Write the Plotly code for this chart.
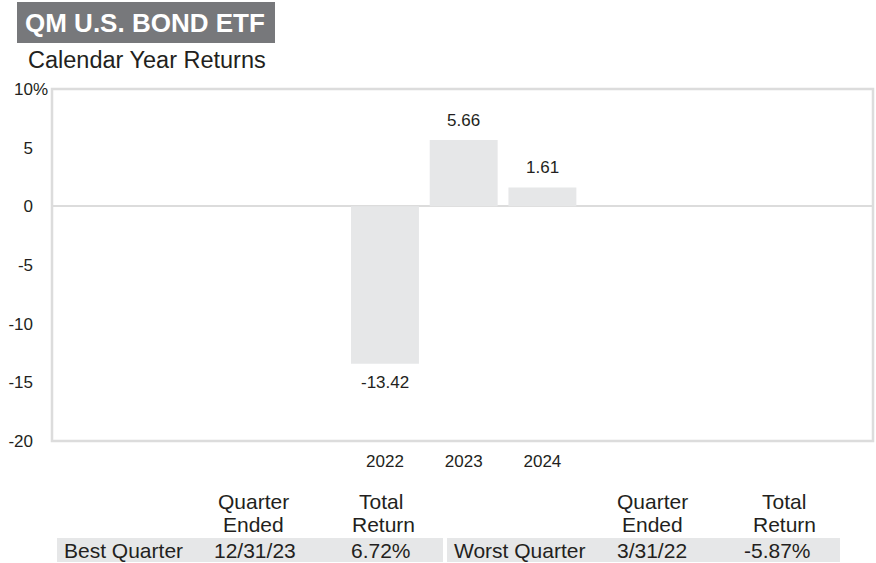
import plotly.graph_objects as go

years = ["2022", "2023", "2024"]
returns = [-13.42, 5.66, 1.61]
y_ticks = [-20, -15, -10, -5, 0, 5, 10]
y_tick_text = ["-20", "-15", "-10", "-5", "0", "5", "10"]

best_label, best_date, best_ret = "Best Quarter", "12/31/23", "6.72%"
worst_label, worst_date, worst_ret = "Worst Quarter", "3/31/22", "-5.87%"

W, H = 876, 563
L, R, T, B = 52, 3, 89, 122
PW, PH = W - L - R, H - T - B
TXT = "#231f20"
FONT = "Liberation Sans, Arial, sans-serif"

def px(x):
    return (x - L) / PW

def py(y):
    return (H - B - y) / PH

fig = go.Figure()
fig.add_trace(go.Bar(x=years, y=returns, marker=dict(color="#e6e7e8", line=dict(width=0)),
                     width=0.863, hoverinfo="skip"))

annotations = []
for i, v in enumerate(returns):
    annotations.append(dict(x=i, y=v, xref="x", yref="y", text=f"{v:.2f}", showarrow=False,
                            yanchor="bottom" if v >= 0 else "top",
                            yshift=8 if v >= 0 else -7,
                            font=dict(size=17, color=TXT, family=FONT)))

# % sign after top tick
annotations.append(dict(x=px(32), y=1, xref="paper", yref="paper", text="%", showarrow=False,
                        xanchor="left", yanchor="middle", xshift=-1,
                        font=dict(size=17, color=TXT, family=FONT)))

# Title
annotations.append(dict(x=px(23), y=py(23), xref="paper", yref="paper", text="<b>QM U.S. BOND ETF</b>",
                        showarrow=False, xanchor="left", yanchor="middle",
                        font=dict(size=26, color="white", family=FONT)))
annotations.append(dict(x=px(26), y=py(60), xref="paper", yref="paper", text="Calendar Year Returns",
                        showarrow=False, xanchor="left", yanchor="middle",
                        font=dict(size=23.5, color=TXT, family=FONT)))

tf = dict(size=21, color=TXT, family=FONT)
def ann(x, y, text, anchor="center"):
    annotations.append(dict(x=px(x), y=py(y), xref="paper", yref="paper", text=text,
                            showarrow=False, xanchor=anchor, yanchor="middle", font=tf))

ann(253, 501, "Quarter"); ann(253, 524, "Ended")
ann(381, 501, "Total"); ann(383, 524, "Return")
ann(652, 501, "Quarter"); ann(652, 524, "Ended")
ann(784, 501, "Total"); ann(784, 524, "Return")
ann(62, 550, best_label, "left"); ann(255, 550, best_date); ann(381, 550, best_ret)
ann(452, 550, worst_label, "left"); ann(652, 550, worst_date); ann(777, 550, worst_ret)

shapes = [
    dict(type="rect", xref="paper", yref="paper", x0=px(17), x1=px(275), y0=py(43), y1=py(2),
         fillcolor="#77787b", line=dict(width=0), layer="below"),
    dict(type="rect", xref="paper", yref="paper", x0=px(57), x1=px(443), y0=py(562), y1=py(538),
         fillcolor="#e6e7e8", line=dict(width=0), layer="below"),
    dict(type="rect", xref="paper", yref="paper", x0=px(447), x1=px(840), y0=py(562), y1=py(538),
         fillcolor="#e6e7e8", line=dict(width=0), layer="below"),
    dict(type="rect", xref="paper", yref="paper", x0=0, x1=1, y0=0, y1=1,
         line=dict(color="#dcdcdc", width=2.5), layer="above"),
]

fig.update_layout(
    width=W, height=H, margin=dict(l=L, r=R, t=T, b=B),
    paper_bgcolor="white", plot_bgcolor="white",
    showlegend=False, font=dict(family=FONT, color=TXT, size=17),
    annotations=annotations, shapes=shapes,
    xaxis=dict(type="category", categoryorder="array", categoryarray=years,
               range=[-4.23, 6.2], showgrid=False, zeroline=False, showline=False,
               ticks="", tickfont=dict(size=17, color=TXT, family=FONT), ticklabelstandoff=8),
    yaxis=dict(range=[-20, 10], tickvals=y_ticks, ticktext=y_tick_text, showgrid=False,
               zeroline=True, zerolinecolor="#dcdcdc", zerolinewidth=2, showline=False,
               ticks="", tickfont=dict(size=17, color=TXT, family=FONT), ticklabelstandoff=18),
)

fig.write_html("out.html", config={"displayModeBar": False},
               post_script="document.body.style.margin='0';document.body.style.overflow='hidden';")
